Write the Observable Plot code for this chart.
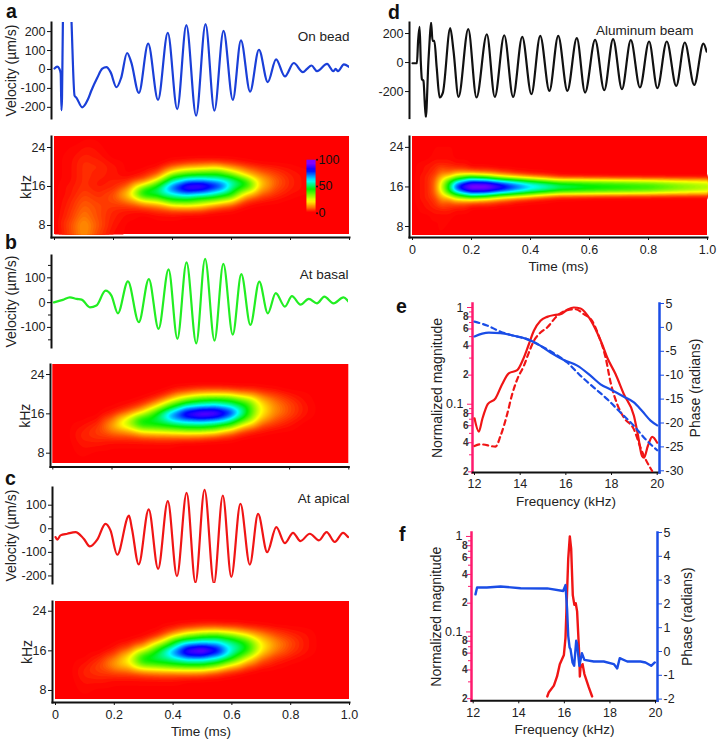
<!DOCTYPE html>
<html><head><meta charset="utf-8">
<script src="https://cdn.jsdelivr.net/npm/d3@7"></script>
<script src="https://cdn.jsdelivr.net/npm/@observablehq/plot@0.6"></script>
<style>
html,body{margin:0;padding:0;background:#fff}
#stage{position:relative;width:718px;height:742px;overflow:hidden;background:#fff;font-family:"Liberation Sans",Arial,sans-serif}
.letter{position:absolute;font-weight:bold;font-size:19.5px;line-height:22px;color:#111}
#stage [aria-label="y-axis label"]{font-size:14px}
#stage [aria-label="x-axis label"]{font-size:13.5px}
</style></head><body><div id="stage"></div>
<script>
// ---- waveforms (time in ms, velocity in µm/s)
const timeA=[0,.009,.016,.021,.0235,.0255,.0285,.043,.0575,.068,.0746,.094,.113,.124,.145,.162,.176,.19,.21,.226,.246,.26,.286,.3175,.351,.384,.416,.447,.48,.512,.542,.573,.6045,.632,.663,.693,.723,.751,.781,.811,.842,.856,.871,.89,.924,.945,.953,.961,.981,1];
const velA=[5,15,5,-20,-215,-150,260,900,260,-138,-150,-200,-159,-115,-44,4,12,-14,-94,-44,87,39,-124,136,-161,193,-209,234,-244,239,-218,204,-161,154,-117,104,-67,53,-37,34,-14,3,21,-9,30,-9,3,-9,27,12];
const timeB=[0,.03,.054,.077,.094,.122,.144,.175,.195,.217,.251,.288,.322,.355,.389,.419,.45,.483,.513,.545,.575,.607,.636,.667,.697,.726,.753,.784,.808,.837,.865,.893,.918,.949,.983,1];
const velB=[1,11,21,15,12,-19,-12,48,28,-43,86,-79,95,-106,134,-146,162,-164,176,-153,156,-129,115,-90,85,-43,38,-16,26,-8,15,-3,24,-3,21,4];
const timeC=[0,.006,.017,.04,.068,.096,.117,.142,.17,.187,.21,.25,.26,.283,.317,.349,.382,.413,.446,.476,.507,.539,.569,.598,.629,.661,.689,.72,.751,.78,.808,.833,.865,.896,.922,.95,.978,.995];
const velC=[-35,-46,-28,-21,-14,-42,-75,-46,21,-7,-110,56,0,-151,82,-170,117,-201,152,-228,165,-232,141,-204,106,-152,63,-99,7,-61,-17,-52,-21,-49,-14,-56,-17,-35];
const timeD=[0,.015,.019,.024,.028,.032,.037,.045,.054,.058,.063,.068,.074,.082,.092,.103,.128,.139,.156,.189,.217,.252,.279,.311,.341,.372,.403,.433,.464,.494,.525,.557,.585,.619,.65,.68,.71,.74,.771,.802,.83,.862,.894,.923,.955,.986,.997];
const velD=[-5,-5,149,246,11,-115,-126,-379,11,149,276,149,149,-34,-241,-207,237,80,-237,230,-241,195,-237,188,-237,177,-218,184,-195,184,-195,168,-207,156,-191,161,-184,154,-172,145,-177,145,-161,138,-154,131,76];

// ---- time-frequency maps (percent of peak)
const mapTimes=[0,.05,.1,.15,.2,.25,.3,.35,.4,.45,.5,.55,.6,.65,.7,.75,.8,.85,.9,1];
const mapFreqs=[26.3,22,21,20,19,18,17,16,15,14,13,12,11,10,8,6];
const mapA=[
[0,0,0,0,0,0,0,0,0,0,0,0,0,0,0,0,0,0,0,0],
[0,1,3,2,0,0,0,0,0,0,0,0,0,0,0,0,0,0,0,0],
[0,1,4,3,1,0,0,0,2,3,4,4,3,1,0,0,0,0,0,0],
[0,1,4,4,2,0,0,1,8,13,15,18,11,6,3,2,1,0,0,0],
[0,1,4,3,2,0,1,5,20,32,36,38,25,13,7,4,2,1,0,0],
[0,1,4,3,2,1,4,12,46,50,52,52,45,25,13,7,3,1,0,0],
[0,1,4,2,3,4,10,32,56,74,76,68,58,46,18,8,3,1,0,0],
[0,2,4,2,3,9,30,48,78,95,98,88,58,45,17,7,3,1,0,0],
[0,2,5,3,5,17,48,53,72,85,78,64,50,28,11,5,2,1,0,0],
[0,2,6,4,7,18,44,47,52,55,52,48,40,14,6,3,1,0,0,0],
[0,3,7,5,6,11,20,26,44,45,36,30,20,5,2,1,0,0,0,0],
[0,3,8,6,5,5,8,11,18,20,18,10,6,1,0,0,0,0,0,0],
[0,4,9,6,3,2,2,4,6,6,5,2,1,0,0,0,0,0,0,0],
[0,4,10,6,3,1,0,1,1,0,0,0,0,0,0,0,0,0,0,0],
[0,6,13,7,2,0,0,0,0,0,0,0,0,0,0,0,0,0,0,0],
[0,5,12,5,1,0,0,0,0,0,0,0,0,0,0,0,0,0,0,0]];
const mapB=[
[0,0,0,0,0,0,0,0,0,0,0,0,0,0,0,0,0,0,0,0],
[0,0,0,0,0,0,0,0,0,0,0,0,0,0,0,0,0,0,0,0],
[0,0,0,0,0,0,0,0,1,3,5,5,4,3,2,1,0,0,0,0],
[0,0,0,0,0,0,0,1,6,12,17,19,18,13,8,5,2,1,0,0],
[0,0,0,0,0,0,1,5,17,32,42,45,42,30,16,8,4,1,0,0],
[0,0,0,0,0,1,4,15,36,50,54,57,52,45,22,11,6,2,0,0],
[0,0,0,0,1,4,12,30,50,72,80,82,72,50,24,12,6,2,0,0],
[0,0,0,0,3,11,26,46,72,92,99,98,85,50,23,11,6,2,0,0],
[0,0,0,1,8,24,46,52,70,80,85,78,60,42,18,8,4,1,0,0],
[0,0,1,3,13,30,47,48,50,54,54,52,48,25,10,5,2,0,0,0],
[0,0,2,5,13,20,34,36,40,44,45,40,26,10,4,2,1,0,0,0],
[0,0,3,5,8,10,15,17,18,19,18,15,8,3,1,0,0,0,0,0],
[0,0,3,4,4,4,5,6,6,6,5,3,2,0,0,0,0,0,0,0],
[0,0,2,2,1,1,1,1,1,0,0,0,0,0,0,0,0,0,0,0],
[0,0,1,0,0,0,0,0,0,0,0,0,0,0,0,0,0,0,0,0],
[0,0,0,0,0,0,0,0,0,0,0,0,0,0,0,0,0,0,0,0]];
const mapC=[
[0,0,0,0,0,0,0,0,0,0,0,0,0,0,0,0,0,0,0,0],
[0,0,0,0,0,0,0,0,0,0,0,0,0,0,0,0,0,0,0,0],
[0,0,0,0,0,0,0,0,1,3,5,5,4,2,1,0,0,0,0,0],
[0,0,0,0,0,0,0,1,6,13,17,19,16,11,7,4,2,1,0,0],
[0,0,0,0,0,0,1,5,20,36,44,45,37,25,14,7,4,2,0,0],
[0,0,0,0,0,1,4,17,42,52,56,58,50,40,20,11,6,2,0,0],
[0,0,0,0,1,4,12,34,52,78,84,76,60,46,23,12,6,2,0,0],
[0,0,0,0,3,10,28,48,72,94,100,90,60,45,21,10,5,2,0,0],
[0,0,0,2,7,20,45,54,68,84,84,70,52,33,14,6,3,1,0,0],
[0,0,1,4,12,24,47,50,52,56,56,52,38,19,7,3,1,0,0,0],
[0,0,2,6,13,18,34,37,42,45,45,36,19,8,3,1,0,0,0,0],
[0,0,3,5,8,10,15,17,18,19,18,12,6,2,0,0,0,0,0,0],
[0,0,3,4,4,4,5,6,6,6,5,3,1,0,0,0,0,0,0,0],
[0,0,2,2,1,1,1,1,1,0,0,0,0,0,0,0,0,0,0,0],
[0,0,1,0,0,0,0,0,0,0,0,0,0,0,0,0,0,0,0,0],
[0,0,0,0,0,0,0,0,0,0,0,0,0,0,0,0,0,0,0,0]];
const mapTimesD=[0,.05,.075,.1,.125,.15,.175,.2,.25,.3,.35,.4,.5,.6,.7,.8,.9,1];
const mapFreqsD=[26.3,22,21,20,19,18.5,18,17.5,17,16.5,16,15.5,15,14.5,14,13.5,13,12,11,10,8,6];
const mapD=[
[0,0,0,0,0,0,0,0,0,0,0,0,0,0,0,0,0,0],
[0,0,1,1,1,0,0,0,0,0,0,0,0,0,0,0,0,0],
[0,1,2,2,2,1,1,0,0,0,0,0,0,0,0,0,0,0],
[0,2,3,5,4,3,3,1,1,0,0,0,0,0,0,0,0,0],
[0,2,4,9,8,11,11,10,8,5,2,1,0,0,0,0,0,0],
[0,3,5,12,14,22,24,25,20,13,8,4,1,0,0,0,0,0],
[0,3,6,16,22,34,40,45,40,28,20,14,4,3,2,2,1,1],
[0,3,7,20,34,46,54,62,58,48,42,34,18,16,14,12,11,10],
[0,3,8,24,44,62,72,82,80,68,58,50,38,36,34,32,27,24],
[0,3,8,27,48,74,87,94,94,84,72,62,50,45,42,39,33,28],
[0,3,8,28,50,80,92,98,98,90,79,68,54,49,46,43,36,30],
[0,3,8,27,48,74,87,94,94,84,72,62,50,45,42,39,33,28],
[0,3,8,24,44,62,72,82,80,68,58,50,38,36,34,32,27,24],
[0,3,7,20,34,46,54,62,58,48,42,34,18,16,14,12,11,10],
[0,3,6,16,22,34,40,45,40,28,20,14,4,3,2,2,1,1],
[0,3,5,12,14,22,24,25,20,13,8,4,1,0,0,0,0,0],
[0,2,4,9,8,11,11,10,8,5,2,1,0,0,0,0,0,0],
[0,2,3,5,4,3,3,1,1,0,0,0,0,0,0,0,0,0],
[0,1,2,2,2,1,1,0,0,0,0,0,0,0,0,0,0,0],
[0,0,1,1,1,0,0,0,0,0,0,0,0,0,0,0,0,0],
[0,0,0,1,0,0,0,0,0,0,0,0,0,0,0,0,0,0],
[0,0,0,0,0,0,0,0,0,0,0,0,0,0,0,0,0,0]];
const colorStops=[0,10,22,45,62,82,95];
const colorRamp=["#ff0000","#ff8000","#ffff00","#00f000","#00ffff","#0000ff","#8000ff"];
const barLevels=[100,95,90,85,80,75,70,65,60,55,50,45,40,35,30,25,20,15,10,5,0];
const barTicks=[100,50,0];

// ---- panel e (kHz, normalized magnitude, radians)
const freqE1=[12,12.19,12.34,12.58,12.92,13.21,13.5,13.87,14.13,14.38,14.6,14.89,15.18,15.55,15.77,16.06,16.35,16.64,16.93,17.3,17.59,17.81,18.18,18.54,18.98,19.15,19.34,19.42,19.59,19.78,20];
const magE1=[.0716,.052,.07,.1,.115,.161,.209,.225,.292,.417,.574,.728,.8,.84,.853,.946,1,.976,.84,.597,.417,.304,.204,.127,.076,.049,.029,.028,.037,.046,.04];
const freqE2=[12,12.26,12.92,13.14,13.43,13.65,13.87,14.16,14.38,14.6,14.89,15.18,15.62,16.06,16.42,16.79,17.15,17.44,17.74,17.96,18.25,18.54,18.98,19.27,19.49,19.78];
const magE2=[.037,.0385,.0365,.047,.0788,.127,.181,.249,.342,.452,.551,.621,.82,.938,.96,.853,.728,.509,.304,.168,.1,.0728,.055,.0356,.027,.0204];
const freqE3=[12,12.34,12.63,13.14,13.72,14.3,14.74,15.33,15.91,16.5,17.08,17.52,17.96,18.54,18.98,19.34,19.71,20];
const phaseE3=[-1.9,-1.3,-1.1,-1.2,-1.75,-2.45,-3.4,-5.25,-6.8,-8,-10.1,-11.9,-13,-14.5,-15.7,-17.5,-19.5,-20.5];
const freqE4=[12,12.55,13.14,13.72,14.3,14.89,15.47,16.06,16.64,17.23,17.81,18.39,18.98,19.49,20];
const phaseE4=[1.2,.4,-.9,-1.75,-2.45,-3.85,-5.4,-7.35,-10.1,-12.6,-15,-17.8,-20.6,-23.4,-25.7];
// ---- panel f
const freqF1=[15.25,15.32,15.54,15.68,15.8,15.98,16.05,16.09,16.17,16.24,16.3,16.37,16.44,16.5,16.56,16.66,16.68,16.71,16.8,16.88,17.07,17.22];
const magF1=[.0211,.0234,.0274,.0342,.046,.0574,.0867,.164,.583,1,.74,.243,.192,.2,.164,.0538,.0342,.0424,.046,.0362,.0264,.0211];
const freqF2=[12.1,12.17,12.6,13.2,14.08,15.25,15.95,16.05,16.12,16.17,16.23,16.27,16.36,16.43,16.52,16.56,16.66,16.77,16.88,17.29,17.73,18.17,18.32,18.43,18.76,19.34,19.56,19.81,19.97];
const phaseF2=[2.4,2.69,2.69,2.73,2.66,2.65,2.54,2.79,1.78,.66,.17,.1,-.46,-.6,.45,.31,-.6,-.07,-.35,-.42,-.42,-.53,-.71,-.28,-.42,-.42,-.46,-.6,-.46];
const magMajor=[1,.1];
const magLabelled=[.8,.6,.4,.2,.08,.06,.04,.02];
const magMinor=[.9,.7,.5,.3,.09,.07,.05,.03];
const timeTicks=[0,.2,.4,.6,.8,1];
const freqTicks=[12,14,16,18,20];

// ---- helpers
const FONT='"Liberation Sans",Arial,sans-serif', INK="#222", PINK="#ff1a6e", BLUE="#1a4de6";
const stage=document.getElementById("stage");
const zip=(a,b,k1,k2)=>a.map((d,i)=>({[k1]:d,[k2]:b[i]}));
const grid=(ts,fs,m)=>fs.flatMap((f,r)=>ts.map((t,c)=>({t,f,v:m[r][c]})));
const timeFmt=d=>d===0?"0":d.toFixed(1);
function place(marks,{x0,x1,y0,y1,ml=60,mr=8,mt=6,mb=6,il=0,ir=0,ib=0,x,y,color}){
  const chart=Plot.plot({
    width:Math.round(x1-x0+ml+mr),height:Math.round(y1-y0+mt+mb),
    marginLeft:ml,marginRight:Math.round(x1-x0+ml+mr)-ml-(x1-x0),marginTop:mt,marginBottom:Math.round(y1-y0+mt+mb)-mt-(y1-y0),
    insetLeft:il,insetRight:ir,insetBottom:ib,
    x:{axis:null,...x},y,color,
    style:{fontFamily:FONT,color:INK,background:"transparent",overflow:"visible"},
    marks});
  chart.style.position="absolute";chart.style.left=(x0-ml)+"px";chart.style.top=(y0-mt)+"px";
  stage.append(chart);return chart;
}
function wave({box,il,domain,ticks,minor,label,labelOffset,stroke,t,v,note,noteDx=0,noteDy=0}){
  place([
    Plot.frame({anchor:"left",stroke:"#111",strokeWidth:2}),
    minor?Plot.axisY({ticks:minor,tickSize:3,tickFormat:()=>"",label:null,stroke:"#111"}):null,
    Plot.axisY({ticks,tickSize:4,tickPadding:2,fontSize:12.5,tickFormat:String,label:label||null,labelAnchor:"center",labelOffset,labelArrow:"none",stroke:"#111",fill:INK}),
    Plot.line(zip(t,v,"t","v"),{x:"t",y:"v",stroke,strokeWidth:2.2,curve:"monotone-x",clip:true}),
    Plot.text([note],{frameAnchor:"top-right",dx:noteDx,dy:noteDy,fontSize:13.5,fill:INK,text:d=>d})
  ],{...box,il,x:{domain:[0,1]},y:{domain}});
}
function heat({box,il,ib,domain,data,label,labelOffset,labelled,blur=2.5,extra=[]}){
  place([
    Plot.rect([0],{x1:()=>0,x2:()=>1,y1:()=>domain[0],y2:()=>domain[1],fill:"#ff0000"}),
    Plot.contour(data,{x:"t",y:"f",fill:"v",interpolate:"barycentric",pixelSize:1,blur,thresholds:d3.range(.5,100,1),x1:0,x2:1,y1:domain[0],y2:domain[1],stroke:"none"}),
    Plot.frame({anchor:"left",stroke:"#111",strokeWidth:2}),
    Plot.frame({anchor:"bottom",stroke:"#111",strokeWidth:2}),
    Plot.axisY({ticks:[8,16,24],tickSize:4,tickPadding:2,fontSize:12.5,tickFormat:String,label:label||null,labelAnchor:"center",labelOffset,labelArrow:"none",stroke:"#111",fill:INK}),
    Plot.axisX({ticks:timeTicks,tickSize:3,tickPadding:5,fontSize:12.5,tickFormat:labelled?timeFmt:()=>"",label:labelled?"Time (ms)":null,labelAnchor:"center",labelOffset:33,labelArrow:"none",stroke:"#111",fill:INK}),
    ...extra
  ],{...box,il,ib,mb:labelled?40:8,x:{domain:[0,1],axis:undefined},y:{domain},color:{type:"linear",domain:colorStops,range:colorRamp,clamp:true}});
}
function letter(s,x,y){const e=document.createElement("div");e.className="letter";e.textContent=s;e.style.left=x+"px";e.style.top=y+"px";stage.append(e);}

// ---- left and right columns
wave({box:{x0:51,x1:349,y0:22,y1:118},il:3,domain:[-259,248],ticks:[200,100,0,-100,-200],label:"Velocity (µm/s)",labelOffset:45,stroke:"#1a3fd8",t:timeA,v:velA,note:"On bead",noteDy:9});
heat({box:{x0:51,x1:349,y0:136,y1:237},il:3,ib:3,domain:[6.15,26.26],data:grid(mapTimes,mapFreqs,mapA),label:"kHz",labelOffset:30,
  extra:[
    Plot.raster(barLevels,{width:1,height:barLevels.length,x1:.854,x2:.885,y1:21.5,y2:10.5,fill:d=>d}),
    Plot.dot(barTicks,{x:()=>.89,y:d=>10.5+d*.11,r:1,fill:"#111"}),
    Plot.text(barTicks,{x:()=>.895,y:d=>10.5+d*.11,text:String,textAnchor:"start",fontSize:12.5,fill:"#111"})
  ]});
wave({box:{x0:51,x1:348,y0:255,y1:347},il:2.5,domain:[-181,190],ticks:[100,0,-100],minor:[150,50,-50,-150],label:"Velocity (µm/s)",labelOffset:45,stroke:"#22ee22",t:timeB,v:velB,note:"At basal",noteDy:14});
heat({box:{x0:50,x1:348.3,y0:364,y1:466.5},il:2.3,ib:3.5,domain:[5.9,26.04],data:grid(mapTimes,mapFreqs,mapB),label:"kHz",labelOffset:30});
wave({box:{x0:52,x1:349,y0:487,y1:583},il:3,domain:[-232,175],ticks:[100,0,-100,-200],minor:[50,-50,-150],label:"Velocity (µm/s)",labelOffset:46,stroke:"#f01515",t:timeC,v:velC,note:"At apical",noteDy:6});
heat({box:{x0:52,x1:349,y0:601,y1:702},il:3,ib:3,domain:[6.18,25.96],data:grid(mapTimes,mapFreqs,mapC),label:"kHz",labelOffset:30,labelled:true});
wave({box:{x0:409,x1:707,y0:21.7,y1:117.3},il:3,domain:[-383,276],ticks:[200,0,-200],stroke:"#111",t:timeD,v:velD,note:"Aluminum beam",noteDx:-14,noteDy:3});
heat({box:{x0:409,x1:707,y0:136,y1:237},il:3,ib:2,domain:[6.18,26.2],data:grid(mapTimesD,mapFreqsD,mapD),labelled:true,blur:1.5});

// ---- magnitude / phase overlays
const digit=d=>String(Math.round(d/10**Math.floor(Math.log10(d)+1e-9)));
function bode({box,il,ir,ib,magDomain,phaseDomain,phaseTicks,magLines,phaseLines,labelOffsetL,labelOffsetR}){
  const common={...box,il,ir,ib,ml:60,mr:60,mb:40};
  place([
    Plot.frame({anchor:"left",stroke:PINK,strokeWidth:2.5}),
    Plot.frame({anchor:"bottom",stroke:"#111",strokeWidth:2}),
    Plot.axisY({ticks:magMinor,tickSize:3,tickFormat:()=>"",label:null,stroke:PINK}),
    Plot.axisY({ticks:magLabelled,tickSize:4,tickFormat:()=>"",label:null,stroke:PINK}),
    Plot.text(magLabelled,{y:d=>d,frameAnchor:"left",dx:-4,textAnchor:"end",text:digit,fontSize:10,fontWeight:"bold",fill:"#333"}),
    Plot.axisY({ticks:magMajor,tickSize:5,tickPadding:4,fontSize:12.5,tickFormat:String,label:"Normalized magnitude",labelAnchor:"center",labelOffset:labelOffsetL,labelArrow:"none",stroke:PINK,fill:INK}),
    Plot.axisX({ticks:freqTicks,tickSize:3,tickPadding:4,fontSize:12.5,tickFormat:String,label:"Frequency (kHz)",labelAnchor:"center",labelOffset:33,labelArrow:"none",stroke:"#111",fill:INK}),
    ...magLines
  ],{...common,x:{domain:[12,20],axis:undefined},y:{type:"log",domain:magDomain}});
  place([
    Plot.frame({anchor:"right",stroke:BLUE,strokeWidth:2.5}),
    Plot.axisY({anchor:"right",ticks:phaseTicks,tickSize:4,tickPadding:2,fontSize:12.5,tickFormat:String,label:"Phase (radians)",labelAnchor:"center",labelOffset:labelOffsetR,labelArrow:"none",stroke:BLUE,fill:INK}),
    ...phaseLines
  ],{...common,x:{domain:[12,20]},y:{domain:phaseDomain}});
}
const magLine=(a,b,o={})=>Plot.line(zip(a,b,"x","y"),{x:"x",y:"y",stroke:"#f01515",strokeWidth:2.2,curve:"monotone-x",clip:true,...o});
const phaseLine=(a,b,o={})=>Plot.line(zip(a,b,"x","y"),{x:"x",y:"y",stroke:BLUE,strokeWidth:2.2,curve:"monotone-x",clip:true,...o});
bode({box:{x0:472,x1:659,y0:302.7,y1:471.7},il:2,ir:2.3,ib:1.7,magDomain:[.0205,1.1],phaseDomain:[-30,5],phaseTicks:d3.range(-30,6,5),labelOffsetL:40,labelOffsetR:40,
  magLines:[magLine(freqE2,magE2,{strokeDasharray:"5,4"}),magLine(freqE1,magE1)],
  phaseLines:[phaseLine(freqE4,phaseE4,{strokeDasharray:"5,4"}),phaseLine(freqE3,phaseE3)]});
bode({box:{x0:471,x1:657,y0:531.7,y1:700},il:1.7,ir:2,ib:1.7,magDomain:[.0198,1.1],phaseDomain:[-2,5],phaseTicks:d3.range(-2,6,1),labelOffsetL:40,labelOffsetR:34,
  magLines:[magLine(freqF1,magF1,{curve:"linear",strokeWidth:2.4})],
  phaseLines:[phaseLine(freqF2,phaseF2,{curve:"linear",strokeWidth:2.4})]});

[["a",6,0],["b",5,230.5],["c",5,466.5],["d",388,0.5],["e",396,294.5],["f",399,522.5]].forEach(d=>letter(...d));
</script></body></html>
